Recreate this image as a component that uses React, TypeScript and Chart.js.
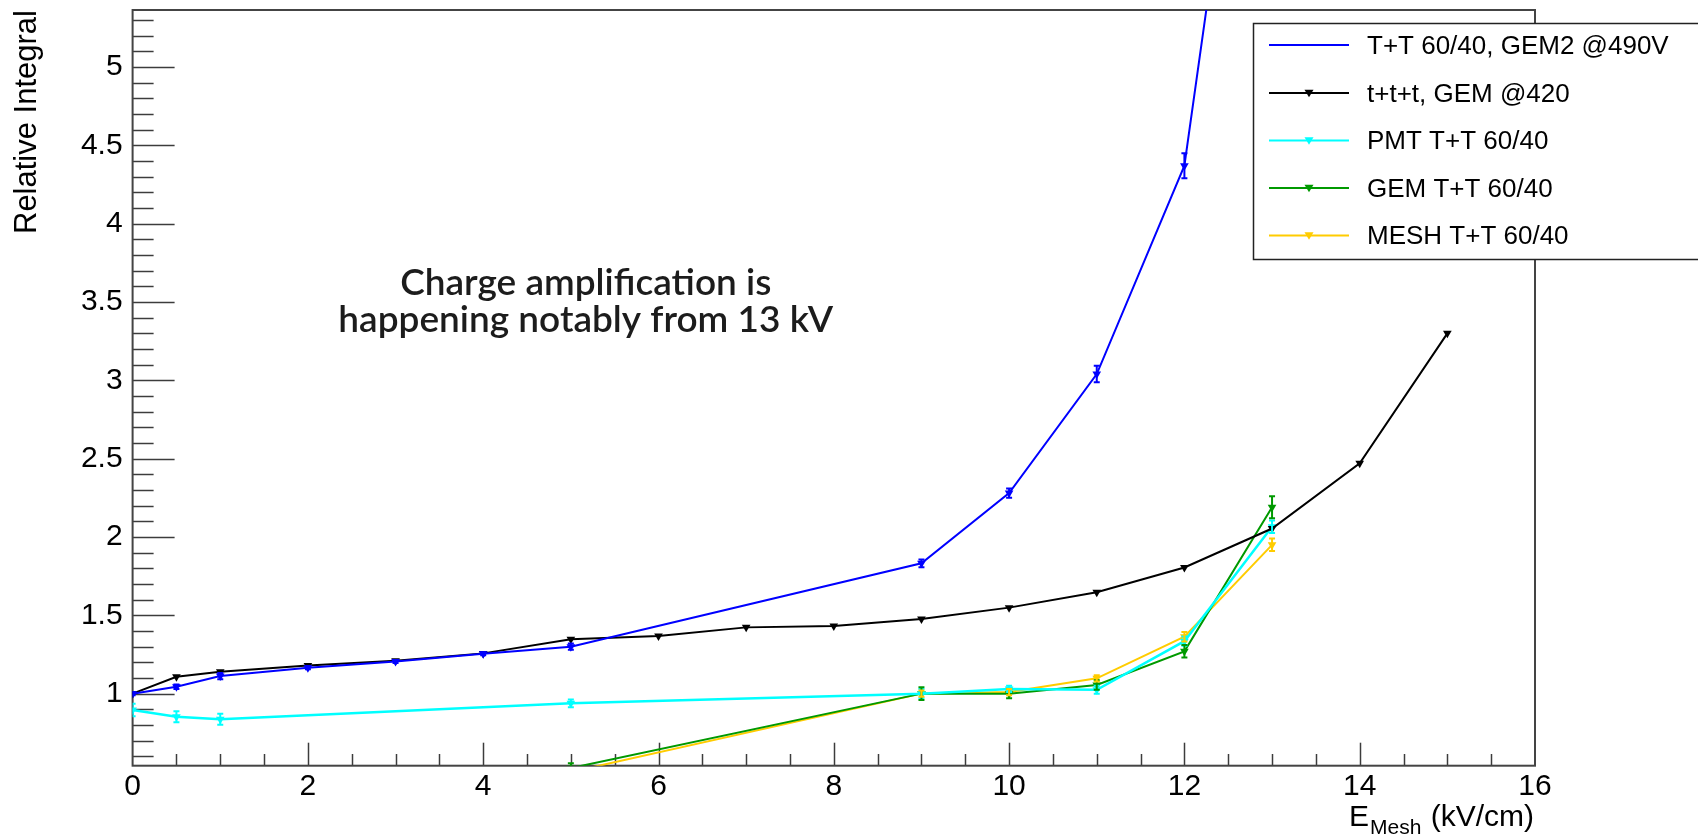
import React, { useEffect, useRef } from "react";
import { Chart, registerables } from "chart.js";

Chart.register(...registerables);

// ---------------- data ----------------
const blueX = [0, 0.5, 1, 2, 3, 4, 5, 9, 10, 11, 12, 13];
const blueY = [1.0, 1.044, 1.112, 1.165, 1.205, 1.255, 1.3, 1.832, 2.28, 3.04, 4.37, 8.35];
const blueErr = [0.01, 0.015, 0.02, 0.01, 0.01, 0.01, 0.02, 0.025, 0.03, 0.053, 0.08, 0.1];

const blackX = [0, 0.5, 1, 2, 3, 4, 5, 6, 7, 8, 9, 10, 11, 12, 13, 14, 15];
const blackY = [1.0, 1.108, 1.14, 1.18, 1.21, 1.257, 1.347, 1.368, 1.423, 1.432, 1.476, 1.549, 1.647, 1.805, 2.054, 2.47, 3.3];
const blackErr = [0.005, 0.005, 0.005, 0.005, 0.005, 0.005, 0.005, 0.005, 0.005, 0.005, 0.005, 0.005, 0.005, 0.005, 0.005, 0.005, 0.005];

const cyanX = [0, 0.5, 1, 5, 9, 10, 11, 12, 13];
const cyanY = [0.895, 0.852, 0.836, 0.938, 1.0, 1.03, 1.025, 1.335, 2.066];
const cyanErr = [0.04, 0.035, 0.035, 0.025, 0.03, 0.02, 0.025, 0.03, 0.04];

const greenX = [5, 9, 10, 11, 12, 13];
const greenY = [0.525, 1.0, 1.0, 1.055, 1.27, 2.19];
const greenErr = [0.03, 0.04, 0.03, 0.03, 0.04, 0.07];

const yellowX = [5, 9, 10, 11, 12, 13];
const yellowY = [0.5, 1.0, 1.01, 1.098, 1.363, 1.95];
const yellowErr = [0.02, 0.02, 0.02, 0.02, 0.03, 0.04];

const seriesLabels = [
  "T+T 60/40, GEM2 @490V",
  "t+t+t, GEM @420",
  "PMT T+T 60/40",
  "GEM T+T 60/40",
  "MESH T+T 60/40",
];

const xTickValues = [0, 2, 4, 6, 8, 10, 12, 14, 16];
const yTickValues = [1, 1.5, 2, 2.5, 3, 3.5, 4, 4.5, 5];
const xTickLabels = ["0", "2", "4", "6", "8", "10", "12", "14", "16"];
const yTickLabels = ["1", "1.5", "2", "2.5", "3", "3.5", "4", "4.5", "5"];

const X_MIN = 0;
const X_MAX = 16;
const Y_MIN = 0.54;
const Y_MAX = 5.364;
const X_MINOR_STEP = 0.5;
const Y_MINOR_STEP = 0.1;

const annotationLines = ["Charge amplification is", "happening notably from 13 kV"];
const annotationX = 5.17;
const annotationY = [3.545, 3.31];

const yTitle = "Relative Integral";
const xTitleMain = "E";
const xTitleSub = "Mesh";
const xTitleRest = " (kV/cm)";

// ---------------- styling ----------------
const FONT = '"Liberation Sans", Arial, Helvetica, sans-serif';
const W = 1698;
const H = 837;

function pts(xs: number[], ys: number[]) {
  return xs.map((x, i) => ({ x, y: ys[i] }));
}

function drawMarker(ctx: CanvasRenderingContext2D, x: number, y: number, color: string, r: number) {
  ctx.save();
  ctx.fillStyle = color;
  ctx.beginPath();
  ctx.moveTo(x - r, y - r * 0.75);
  ctx.lineTo(x + r, y - r * 0.75);
  ctx.lineTo(x, y + r * 0.95);
  ctx.closePath();
  ctx.fill();
  ctx.restore();
}

const axesPlugin = {
  id: "rootAxes",
  beforeDatasetsDraw(chart: any) {
    const { ctx, chartArea } = chart;
    const xs = chart.scales.x;
    const ys = chart.scales.y;
    ctx.save();
    ctx.strokeStyle = "#3c3c3c";
    ctx.lineWidth = 1.5;
    const nY = Math.round((Y_MAX - 0.5) / Y_MINOR_STEP);
    for (let i = 0; i <= nY + 1; i++) {
      const v = Math.round((0.5 + i * Y_MINOR_STEP) * 10) / 10;
      if (v < Y_MIN || v > Y_MAX) continue;
      const isMajor = Math.abs(v * 2 - Math.round(v * 2)) < 1e-6;
      const p = Math.round(ys.getPixelForValue(v)) + 0.5;
      ctx.beginPath();
      ctx.moveTo(chartArea.left, p);
      ctx.lineTo(chartArea.left + (isMajor ? 42 : 21), p);
      ctx.stroke();
    }
    const nX = Math.round((X_MAX - X_MIN) / X_MINOR_STEP);
    for (let i = 1; i < nX; i++) {
      const v = X_MIN + i * X_MINOR_STEP;
      const isMajor = Math.abs(v / 2 - Math.round(v / 2)) < 1e-6;
      const p = Math.round(xs.getPixelForValue(v)) + 0.5;
      ctx.beginPath();
      ctx.moveTo(p, chartArea.bottom);
      ctx.lineTo(p, chartArea.bottom - (isMajor ? 23 : 11.7));
      ctx.stroke();
    }
    ctx.lineWidth = 2;
    ctx.strokeStyle = "#444";
    ctx.strokeRect(chartArea.left, chartArea.top, chartArea.right - chartArea.left, chartArea.bottom - chartArea.top);
    ctx.restore();
  },
};

const errorBarPlugin = {
  id: "errorBars",
  afterDatasetsDraw(chart: any) {
    const { ctx, chartArea } = chart;
    const ys = chart.scales.y;
    ctx.save();
    ctx.beginPath();
    ctx.rect(chartArea.left, chartArea.top, chartArea.right - chartArea.left, chartArea.bottom - chartArea.top);
    ctx.clip();
    chart.data.datasets.forEach((ds: any, di: number) => {
      const meta = chart.getDatasetMeta(di);
      const errs: number[] = ds.errors || [];
      ctx.strokeStyle = ds.borderColor;
      ctx.lineWidth = 2;
      meta.data.forEach((el: any, i: number) => {
        const e = errs[i] || 0;
        const v = ds.data[i].y;
        const x = el.x;
        const y1 = ys.getPixelForValue(v - e);
        const y2 = ys.getPixelForValue(v + e);
        if (Math.abs(y1 - y2) < 2) return;
        ctx.beginPath();
        ctx.moveTo(x, y1);
        ctx.lineTo(x, y2);
        ctx.moveTo(x - 3, y1);
        ctx.lineTo(x + 3, y1);
        ctx.moveTo(x - 3, y2);
        ctx.lineTo(x + 3, y2);
        ctx.stroke();
      });
    });
    ctx.restore();
  },
};

const decorPlugin = {
  id: "decor",
  afterDraw(chart: any) {
    const { ctx, chartArea } = chart;
    const xs = chart.scales.x;
    const ys = chart.scales.y;
    ctx.save();
    // y title
    ctx.save();
    ctx.translate(36, chartArea.top);
    ctx.rotate(-Math.PI / 2);
    ctx.font = `31px ${FONT}`;
    ctx.fillStyle = "#000";
    ctx.textAlign = "right";
    ctx.textBaseline = "alphabetic";
    ctx.fillText(yTitle, 0, 0);
    ctx.restore();

    // x title
    ctx.fillStyle = "#000";
    ctx.textBaseline = "alphabetic";
    ctx.textAlign = "left";
    ctx.font = `30px ${FONT}`;
    const wMain = ctx.measureText(xTitleMain).width;
    const wRest = ctx.measureText(xTitleRest).width;
    ctx.font = `21px ${FONT}`;
    const wSub = ctx.measureText(xTitleSub).width;
    const endX = chartArea.right - 1;
    let x0 = endX - (wMain + wSub + wRest + 2);
    const baseY = 826;
    ctx.font = `30px ${FONT}`;
    ctx.fillText(xTitleMain, x0, baseY);
    x0 += wMain + 1;
    ctx.font = `21px ${FONT}`;
    ctx.fillText(xTitleSub, x0, baseY + 8);
    x0 += wSub + 1;
    ctx.font = `30px ${FONT}`;
    ctx.fillText(xTitleRest, x0, baseY);

    // annotation
    ctx.font = `600 37px Lato, "Open Sans", sans-serif`;
    ctx.fillStyle = "#1c1c1c";
    ctx.textAlign = "center";
    annotationLines.forEach((line, i) => {
      ctx.fillText(line, xs.getPixelForValue(annotationX), ys.getPixelForValue(annotationY[i]));
    });

    // legend
    const lx = 1253.5;
    const ly = 23.5;
    const lw = 460;
    const lh = 236;
    ctx.fillStyle = "#fff";
    ctx.fillRect(lx, ly, lw, lh);
    ctx.strokeStyle = "#222";
    ctx.lineWidth = 1.5;
    ctx.strokeRect(lx, ly, lw, lh);
    const rowY = [45, 93, 140.5, 188, 235.5];
    chart.data.datasets.forEach((ds: any, i: number) => {
      const y = rowY[i];
      ctx.strokeStyle = ds.borderColor;
      ctx.lineWidth = 2;
      ctx.beginPath();
      ctx.moveTo(1269, y);
      ctx.lineTo(1349, y);
      ctx.stroke();
      if (ds.legendMarker) drawMarker(ctx, 1309, y, ds.borderColor, 4.5);
      ctx.fillStyle = "#000";
      ctx.font = `26px ${FONT}`;
      ctx.textAlign = "left";
      ctx.textBaseline = "middle";
      ctx.fillText(ds.label, 1367, y + 1.5);
    });
    ctx.restore();
  },
};

function makeDataset(label: string, xs: number[], ys: number[], errs: number[], color: string, legendMarker: boolean, width = 2) {
  return {
    label,
    data: pts(xs, ys),
    errors: errs,
    legendMarker,
    borderColor: color,
    backgroundColor: color,
    borderWidth: width,
    pointStyle: "triangle",
    rotation: 180,
    pointRadius: 5,
    pointHoverRadius: 5,
    pointBorderWidth: 0,
    tension: 0,
    fill: false,
    clip: 0,
  };
}

export default function App() {
  const canvasRef = useRef<HTMLCanvasElement | null>(null);

  useEffect(() => {
    if (!canvasRef.current) return;
    const chart = new Chart(canvasRef.current, {
      type: "line",
      data: {
        datasets: [
          makeDataset(seriesLabels[0], blueX, blueY, blueErr, "#0000ff", false),
          makeDataset(seriesLabels[1], blackX, blackY, blackErr, "#000000", true),
          makeDataset(seriesLabels[2], cyanX, cyanY, cyanErr, "#00ffff", true, 2.5),
          makeDataset(seriesLabels[3], greenX, greenY, greenErr, "#009900", true),
          makeDataset(seriesLabels[4], yellowX, yellowY, yellowErr, "#ffcc00", true),
        ] as any,
      },
      options: {
        responsive: false,
        animation: false,
        events: [],
        layout: { padding: { top: 10, right: 163, left: 0, bottom: 0 } },
        plugins: {
          legend: { display: false },
          tooltip: { enabled: false },
          title: { display: false },
        },
        scales: {
          x: {
            type: "linear",
            min: X_MIN,
            max: X_MAX,
            afterBuildTicks: (s: any) => {
              s.ticks = xTickValues.map((v) => ({ value: v }));
            },
            afterFit: (s: any) => {
              s.height = H - 765.7;
              s.paddingLeft = 0;
              s.paddingRight = 0;
            },
            ticks: {
              autoSkip: false,
              maxRotation: 0,
              padding: 3,
              color: "#000",
              font: { family: FONT, size: 30 },
              callback: (v: any) => {
                const i = xTickValues.indexOf(Number(v));
                return i >= 0 ? xTickLabels[i] : "";
              },
            },
            grid: { display: false, drawTicks: false },
            border: { display: false },
          },
          y: {
            type: "linear",
            min: Y_MIN,
            max: Y_MAX,
            afterBuildTicks: (s: any) => {
              s.ticks = yTickValues.map((v) => ({ value: v }));
            },
            afterFit: (s: any) => {
              s.width = 132.6;
              s.paddingTop = 0;
              s.paddingBottom = 0;
            },
            ticks: {
              autoSkip: false,
              padding: 10,
              color: "#000",
              font: { family: FONT, size: 30 },
              callback: (v: any) => {
                const i = yTickValues.indexOf(Number(v));
                return i >= 0 ? yTickLabels[i] : "";
              },
            },
            grid: { display: false, drawTicks: false },
            border: { display: false },
          },
        },
      } as any,
      plugins: [axesPlugin, errorBarPlugin, decorPlugin],
    });
    return () => chart.destroy();
  }, []);

  return (
    <div style={{ position: "absolute", left: 0, top: 0, width: W, height: H, background: "#fff" }}>
      <canvas ref={canvasRef} width={W} height={H} style={{ display: "block", width: W, height: H }} />
    </div>
  );
}
